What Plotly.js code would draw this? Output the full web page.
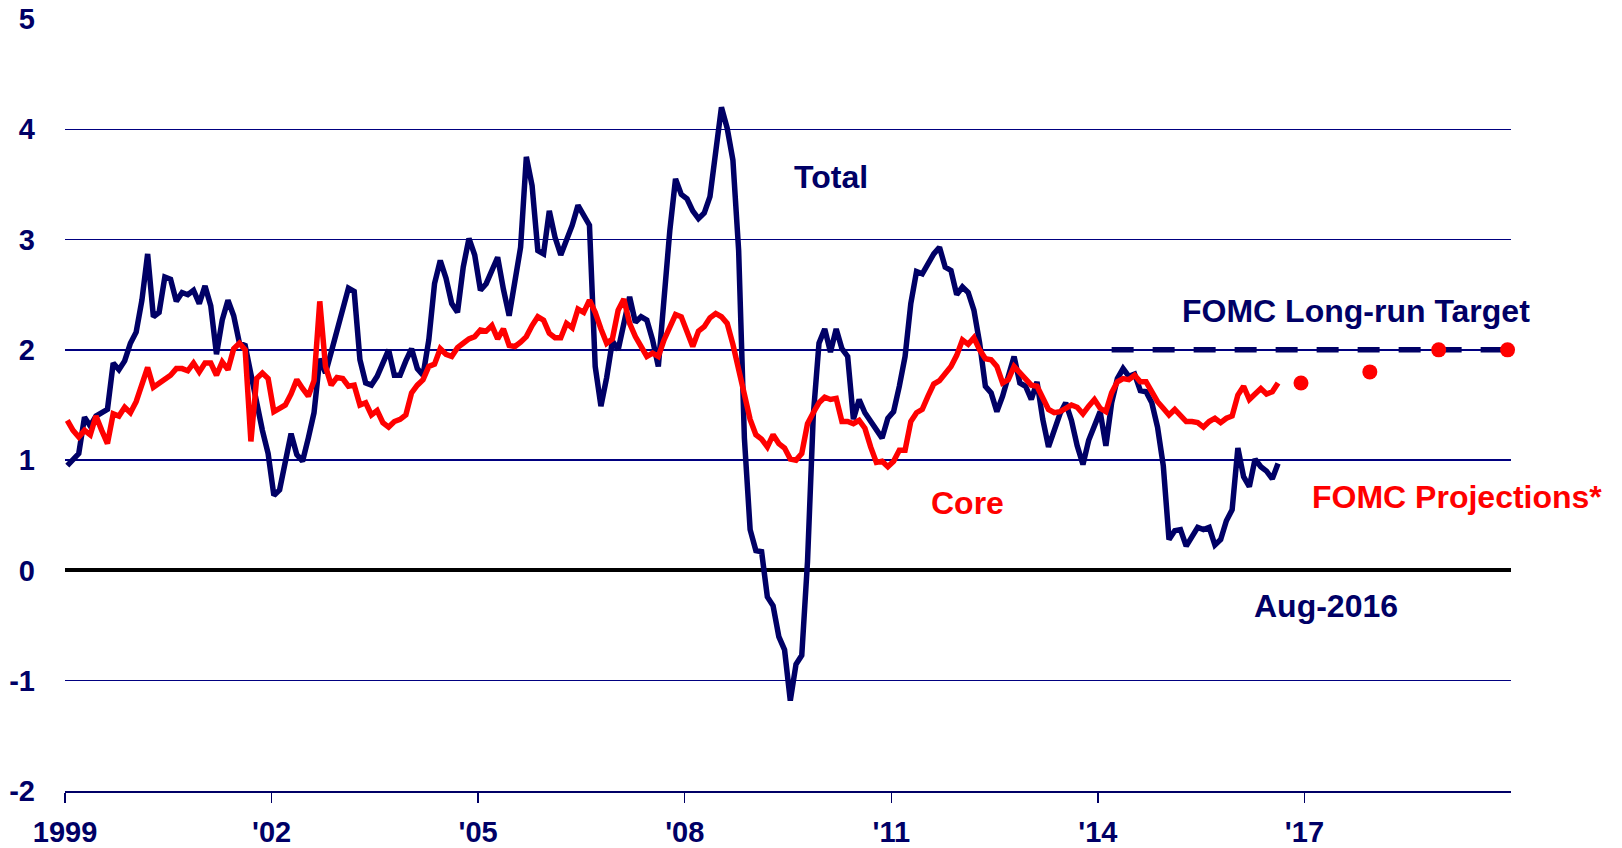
<!DOCTYPE html>
<html>
<head>
<meta charset="utf-8">
<script src="https://cdn.plot.ly/plotly-3.0.1.min.js"></script>
<style>
  html, body { margin: 0; padding: 0; background: #ffffff; }
  #chart { width: 1622px; height: 848px; }
</style>
</head>
<body>
<div id="chart"></div>
<script>
// Monthly year-over-year % change, Jan 1999 .. Aug 2016
const startYear = 1999;
const totalPCE = [
  0.95, 1.00, 1.06, 1.39, 1.31, 1.40, 1.43, 1.46, 1.88, 1.82, 1.90, 2.06,
  2.16, 2.45, 2.87, 2.30, 2.34, 2.66, 2.64, 2.44, 2.52, 2.50, 2.54, 2.42,
  2.58, 2.40, 1.96, 2.27, 2.45, 2.31, 2.06, 2.04, 1.78, 1.50, 1.27, 1.06,
  0.68, 0.73, 1.00, 1.24, 1.05, 0.99, 1.20, 1.43, 1.92, 1.79, 1.98, 2.18,
  2.37, 2.56, 2.53, 1.91, 1.70, 1.68, 1.76, 1.88, 2.00, 1.77, 1.77, 1.90,
  2.01, 1.83, 1.77, 2.09, 2.60, 2.81, 2.65, 2.42, 2.34, 2.75, 3.01, 2.86,
  2.54, 2.60, 2.72, 2.84, 2.55, 2.31, 2.62, 2.93, 3.75, 3.49, 2.90, 2.87,
  3.26, 3.02, 2.86, 3.00, 3.13, 3.31, 3.23, 3.13, 1.85, 1.49, 1.75, 2.08,
  2.00, 2.25, 2.48, 2.25, 2.30, 2.27, 2.09, 1.85, 2.54, 3.08, 3.55, 3.41,
  3.37, 3.26, 3.19, 3.24, 3.39, 3.81, 4.20, 4.01, 3.72, 2.90, 1.20, 0.37,
  0.18, 0.17, -0.24, -0.32, -0.60, -0.72, -1.18, -0.85, -0.77, 0.08, 1.40, 2.06,
  2.19, 1.98, 2.19, 2.01, 1.94, 1.37, 1.55, 1.43, 1.35, 1.27, 1.20, 1.38,
  1.44, 1.67, 1.94, 2.42, 2.71, 2.69, 2.78, 2.87, 2.93, 2.75, 2.72, 2.50,
  2.57, 2.52, 2.36, 2.06, 1.67, 1.61, 1.44, 1.58, 1.76, 1.94, 1.70, 1.67,
  1.55, 1.71, 1.37, 1.12, 1.27, 1.42, 1.52, 1.36, 1.13, 0.96, 1.18, 1.30,
  1.44, 1.13, 1.52, 1.74, 1.83, 1.76, 1.78, 1.63, 1.62, 1.52, 1.30, 0.95,
  0.28, 0.36, 0.37, 0.22, 0.31, 0.39, 0.37, 0.39, 0.23, 0.28, 0.45, 0.55,
  1.11, 0.85, 0.76, 1.01, 0.94, 0.90, 0.83, 0.97
];
const corePCE = [
  1.36, 1.27, 1.21, 1.27, 1.23, 1.40, 1.27, 1.15, 1.42, 1.40, 1.48, 1.43,
  1.53, 1.70, 1.84, 1.66, 1.70, 1.73, 1.77, 1.83, 1.83, 1.81, 1.88, 1.80,
  1.88, 1.88, 1.77, 1.89, 1.82, 2.01, 2.06, 2.00, 1.17, 1.74, 1.79, 1.74,
  1.44, 1.47, 1.50, 1.60, 1.73, 1.65, 1.58, 1.72, 2.44, 1.85, 1.68, 1.75,
  1.74, 1.67, 1.68, 1.50, 1.52, 1.41, 1.45, 1.34, 1.30, 1.35, 1.37, 1.41,
  1.61, 1.68, 1.73, 1.85, 1.87, 2.01, 1.96, 1.94, 2.02, 2.06, 2.10, 2.12,
  2.18, 2.17, 2.22, 2.10, 2.19, 2.04, 2.03, 2.07, 2.12, 2.22, 2.30, 2.27,
  2.15, 2.11, 2.11, 2.24, 2.20, 2.37, 2.34, 2.45, 2.34, 2.19, 2.06, 2.10,
  2.36, 2.46, 2.24, 2.12, 2.03, 1.94, 1.97, 1.94, 2.09, 2.22, 2.32, 2.30,
  2.17, 2.03, 2.17, 2.21, 2.29, 2.33, 2.30, 2.24, 2.05, 1.84, 1.60, 1.37,
  1.23, 1.19, 1.12, 1.23, 1.15, 1.11, 1.01, 1.00, 1.06, 1.33, 1.43, 1.52,
  1.57, 1.55, 1.56, 1.35, 1.35, 1.33, 1.36, 1.29, 1.12, 0.98, 0.99, 0.94,
  0.99, 1.09, 1.09, 1.35, 1.43, 1.46, 1.58, 1.69, 1.72, 1.79, 1.85, 1.95,
  2.09, 2.05, 2.11, 2.00, 1.92, 1.91, 1.85, 1.70, 1.73, 1.85, 1.79, 1.73,
  1.68, 1.67, 1.56, 1.46, 1.43, 1.44, 1.47, 1.50, 1.48, 1.42, 1.49, 1.55,
  1.47, 1.44, 1.61, 1.71, 1.74, 1.73, 1.77, 1.71, 1.71, 1.62, 1.53, 1.47,
  1.41, 1.46, 1.41, 1.35, 1.35, 1.34, 1.30, 1.35, 1.38, 1.34, 1.38, 1.40,
  1.59, 1.67, 1.55, 1.60, 1.65, 1.60, 1.62, 1.70
];

// FOMC projections (core PCE) and long-run target
const projX = [2016.95, 2017.95, 2018.95, 2019.95];
const projValues = [1.7, 1.8, 2.0, 2.0];
const targetX = [2014.2, 2019.95];
const targetValues = [2.0, 2.0];

// Axis ticks
const xTickVals = [1999, 2002, 2005, 2008, 2011, 2014, 2017];
const xTickText = ["1999", "'02", "'05", "'08", "'11", "'14", "'17"];
const yTickVals = [-2, -1, 0, 1, 2, 3, 4, 5];
const yTickText = ["-2", "-1", "0", "1", "2", "3", "4", "5"];

const monthX = totalPCE.map((_, i) => startYear + (i + 0.4) / 12);

const NAVY = "#000066";
const RED = "#ff0000";
const FONT = "Liberation Sans, Arial, sans-serif";

const traces = [
  {
    x: monthX, y: totalPCE, type: "scatter", mode: "lines", name: "Total",
    line: { color: NAVY, width: 5.5 }, hoverinfo: "skip"
  },
  {
    x: monthX, y: corePCE, type: "scatter", mode: "lines", name: "Core",
    line: { color: RED, width: 5.5 }, hoverinfo: "skip"
  },
  {
    x: targetX, y: targetValues, type: "scatter", mode: "lines", name: "FOMC Long-run Target",
    line: { color: NAVY, width: 5.5, dash: "22px,19px" }, hoverinfo: "skip"
  },
  {
    x: projX, y: projValues, type: "scatter", mode: "markers", name: "FOMC Projections",
    marker: { color: RED, size: 15 }, hoverinfo: "skip", cliponaxis: false
  }
];

const annFont = (c) => ({ family: FONT, size: 32, color: c, weight: 700 });

const layout = {
  width: 1622, height: 848,
  margin: { l: 65, r: 111, t: 19, b: 57 },
  paper_bgcolor: "#ffffff", plot_bgcolor: "#ffffff",
  showlegend: false,
  xaxis: {
    range: [1999, 2020], type: "linear",
    tickvals: xTickVals, ticktext: xTickText,
    showgrid: false, zeroline: false,
    showline: true, linecolor: NAVY, linewidth: 1.5,
    ticks: "outside", ticklen: 10, tickwidth: 1.5, tickcolor: NAVY,
    tickfont: { family: FONT, size: 29, color: NAVY, weight: 700 },
    ticklabelstandoff: 5
  },
  yaxis: {
    range: [-2, 5], type: "linear",
    tickvals: yTickVals, ticktext: yTickText,
    showgrid: true, gridcolor: "#000080", gridwidth: 1.3,
    zeroline: true, zerolinecolor: "#000000", zerolinewidth: 4,
    showline: false, ticks: "",
    tickfont: { family: FONT, size: 29, color: NAVY, weight: 700 },
    ticklabelstandoff: 29
  },
  annotations: [
    { x: 2010.13, y: 3.57, xref: "x", yref: "y", text: "Total", showarrow: false,
      xanchor: "center", yanchor: "middle", font: annFont(NAVY) },
    { x: 2017.75, y: 2.35, xref: "x", yref: "y", text: "FOMC Long-run Target", showarrow: false,
      xanchor: "center", yanchor: "middle", font: annFont(NAVY) },
    { x: 2012.10, y: 0.61, xref: "x", yref: "y", text: "Core", showarrow: false,
      xanchor: "center", yanchor: "middle", font: annFont(RED) },
    { x: 2019.21, y: 0.67, xref: "x", yref: "y", text: "FOMC Projections*", showarrow: false,
      xanchor: "center", yanchor: "middle", font: annFont(RED) },
    { x: 2017.31, y: -0.32, xref: "x", yref: "y", text: "Aug-2016", showarrow: false,
      xanchor: "center", yanchor: "middle", font: annFont(NAVY) }
  ]
};

Plotly.newPlot("chart", traces, layout, { staticPlot: true, displayModeBar: false });
</script>
</body>
</html>
